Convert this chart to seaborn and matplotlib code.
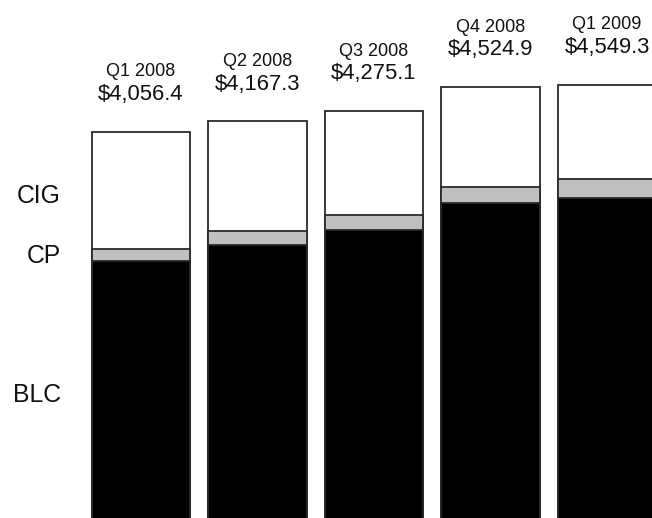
import matplotlib
matplotlib.use("Agg")
import matplotlib.pyplot as plt
import seaborn as sns
import pandas as pd

# Quarterly totals and their three components
quarters = ["Q1 2008", "Q2 2008", "Q3 2008", "Q4 2008", "Q1 2009"]
totals = [4056.4, 4167.3, 4275.1, 4524.9, 4549.3]
blc = [2704, 2875, 3029, 3315, 3368]
cp = [122, 140, 157, 168, 193]
cig = [t - b - c for t, b, c in zip(totals, blc, cp)]
total_labels = ["$4,056.4", "$4,167.3", "$4,275.1", "$4,524.9", "$4,549.3"]
segment_names = ["CIG", "CP", "BLC"]

df = pd.DataFrame({
    "quarter": quarters,
    "blc": blc,
    "blc_cp": [b + c for b, c in zip(blc, cp)],
    "total": [b + c + g for b, c, g in zip(blc, cp, cig)],
})

sns.set_theme(style="white")
plt.rcParams["font.family"] = ["Liberation Sans", "DejaVu Sans"]

fig = plt.figure(figsize=(6.52, 5.18), dpi=100)
ax = fig.add_axes([0, 0, 1, 1])

edge = "#2a2a2a"
bar_kw = dict(order=quarters, width=0.845, edgecolor=edge, linewidth=1.3,
              errorbar=None, ax=ax)

# Layered bars: full total (CIG on top), then BLC+CP, then BLC
sns.barplot(data=df, x="quarter", y="total", color="white", saturation=1, **bar_kw)
sns.barplot(data=df, x="quarter", y="blc_cp", color="#c0c0c0", saturation=1, **bar_kw)
sns.barplot(data=df, x="quarter", y="blc", color="black", saturation=1, **bar_kw)

ax.set_xlim(-1.21, 4.386)
ax.set_ylim(8.4, 5441)
ax.set_axis_off()

# Quarter name and total above each bar
for i, (q, t, lab) in enumerate(zip(quarters, totals, total_labels)):
    ax.annotate(lab, xy=(i, t), xytext=(0, 23), textcoords="offset points",
                ha="center", va="baseline", fontsize=15.8, color="#111111")
    ax.annotate(q, xy=(i, t), xytext=(0, 40), textcoords="offset points",
                ha="center", va="baseline", fontsize=13, color="#111111")

# Segment names on the left, aligned with the first bar's segments
W, H = 652, 518
for name, ypx in zip(segment_names, [202.7, 263.3, 401.7]):
    fig.text(61 / W, 1 - ypx / H, name, ha="right", va="baseline",
             fontsize=17.8, color="#111111")

fig.savefig("out.png", dpi=100)
